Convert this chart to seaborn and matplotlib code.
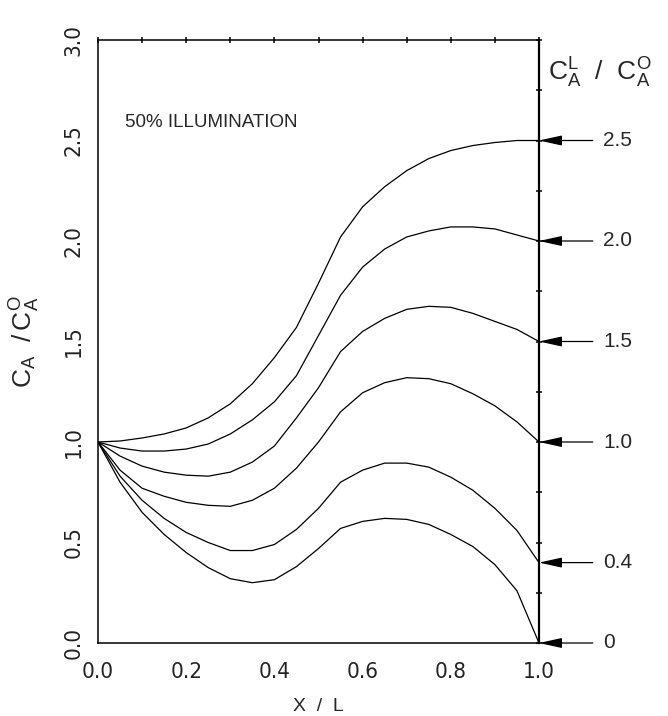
import matplotlib
matplotlib.use("Agg")
import matplotlib.pyplot as plt
import seaborn as sns
import pandas as pd
import numpy as np
from matplotlib.ticker import MultipleLocator

# ---- data ----
x_over_L = [0.0, 0.05, 0.1, 0.15, 0.2, 0.25, 0.3, 0.35, 0.4, 0.45, 0.5,
            0.55, 0.6, 0.65, 0.7, 0.75, 0.8, 0.85, 0.9, 0.95, 1.0]
ratio_25 = [1.0, 1.005, 1.02, 1.04, 1.07, 1.12, 1.19, 1.29, 1.42, 1.57, 1.79,
            2.02, 2.17, 2.27, 2.35, 2.41, 2.45, 2.475, 2.49, 2.5, 2.5]
ratio_20 = [1.0, 0.97, 0.955, 0.955, 0.965, 0.99, 1.04, 1.11, 1.2, 1.33, 1.53,
            1.73, 1.87, 1.96, 2.02, 2.05, 2.07, 2.07, 2.06, 2.03, 2.0]
ratio_15 = [1.0, 0.93, 0.88, 0.85, 0.835, 0.83, 0.85, 0.9, 0.98, 1.12, 1.27,
            1.45, 1.55, 1.615, 1.66, 1.675, 1.67, 1.64, 1.6, 1.56, 1.5]
ratio_10 = [1.0, 0.86, 0.77, 0.73, 0.7, 0.685, 0.68, 0.71, 0.77, 0.87, 1.0,
            1.15, 1.245, 1.295, 1.32, 1.315, 1.29, 1.24, 1.18, 1.1, 1.0]
ratio_04 = [1.0, 0.83, 0.71, 0.62, 0.55, 0.5, 0.46, 0.46, 0.49, 0.565, 0.67,
            0.8, 0.86, 0.895, 0.895, 0.875, 0.825, 0.76, 0.67, 0.56, 0.4]
ratio_00 = [1.0, 0.8, 0.65, 0.54, 0.45, 0.375, 0.32, 0.3, 0.315, 0.38, 0.47,
            0.57, 0.605, 0.62, 0.615, 0.59, 0.54, 0.48, 0.39, 0.26, 0.0]
boundary_values = [2.5, 2.0, 1.5, 1.0, 0.4, 0.0]
boundary_labels = ["2.5", "2.0", "1.5", "1.0", "0.4", "0"]
x_ticks = [0.0, 0.2, 0.4, 0.6, 0.8, 1.0]
x_ticklabels = ["0.0", "0.2", "0.4", "0.6", "0.8", "1.0"]
y_ticks = [0.0, 0.5, 1.0, 1.5, 2.0, 2.5, 3.0]
y_ticklabels = ["0.0", "0.5", "1.0", "1.5", "2.0", "2.5", "3.0"]

series = [ratio_25, ratio_20, ratio_15, ratio_10, ratio_04, ratio_00]
rows = []
for lab, ys in zip(boundary_labels, series):
    for xv, yv in zip(x_over_L, ys):
        rows.append({"x": xv, "y": yv, "curve": lab})
df = pd.DataFrame(rows)

sns.set_theme(style="white")
plt.rcParams["font.family"] = ["Liberation Sans", "DejaVu Sans"]
plt.rcParams["mathtext.fontset"] = "custom"
plt.rcParams["mathtext.rm"] = "Liberation Sans"
plt.rcParams["mathtext.it"] = "Liberation Sans"

fig = plt.figure(figsize=(6.68, 7.16), dpi=100)
ax = fig.add_axes([98 / 668, 1 - 643 / 716, (539 - 98) / 668, (643 - 40) / 716])

sns.lineplot(data=df, x="x", y="y", hue="curve", palette=["black"] * 6,
             legend=False, ax=ax, linewidth=0.9, sort=False, estimator=None)

ax.set_xlim(0, 1.0)
ax.set_ylim(0, 3.0)
ax.set_ylabel("")
ax.set_xlabel("")

for s in ax.spines.values():
    s.set_color("black")
    s.set_linewidth(1.1)
ax.spines["right"].set_linewidth(1.6)

ax.xaxis.set_major_locator(MultipleLocator(0.1))
ax.yaxis.set_major_locator(MultipleLocator(0.25))
ax.tick_params(axis="both", which="major", direction="inout", length=5, width=1.1,
               color="black", top=True, right=True, labelbottom=False, labelleft=False)

# tick labels (narrow face) placed via axis transforms
for xv, lab in zip(x_ticks, x_ticklabels):
    ax.text(xv, -0.032, lab, transform=ax.get_xaxis_transform(), ha="center", va="top",
            fontsize=16, family="DejaVu Sans", fontstretch="condensed",
            fontweight="light", color="#222222")
for yv, lab in zip(y_ticks, y_ticklabels):
    ax.text(-0.055, yv, lab, transform=ax.get_yaxis_transform(), ha="center", va="center",
            rotation=90, fontsize=16, family="DejaVu Sans", fontstretch="condensed",
            fontweight="light", color="#222222")

ax.text(0.5, -0.105, "X  /  L", transform=ax.transAxes, ha="center", va="center",
        fontsize=14)
ax.text(-0.165, 1.5, r"$\mathregular{C_A\ \ /\,C_A^O}$", transform=ax.get_yaxis_transform(),
        rotation=90, ha="center", va="center", fontsize=19)

ax.text(0.061, 2.59, "50% ILLUMINATION", fontsize=13.5, ha="left", va="center")
ax.text(1.02, 2.835, r"$\mathregular{C_A^L\ \ /\ \ C_A^O}$", fontsize=19,
        ha="left", va="center", clip_on=False)

for val, lab in zip(boundary_values, boundary_labels):
    ax.annotate("", xy=(1.0, val), xytext=(1.122, val), annotation_clip=False,
                arrowprops=dict(arrowstyle="-|>,head_length=1.0,head_width=0.22",
                                mutation_scale=14, color="black", lw=0.9,
                                shrinkA=0, shrinkB=0))
    ax.text(1.145, val, lab, fontsize=15, ha="left", va="center", clip_on=False)

fig.savefig("out.png", dpi=100)
